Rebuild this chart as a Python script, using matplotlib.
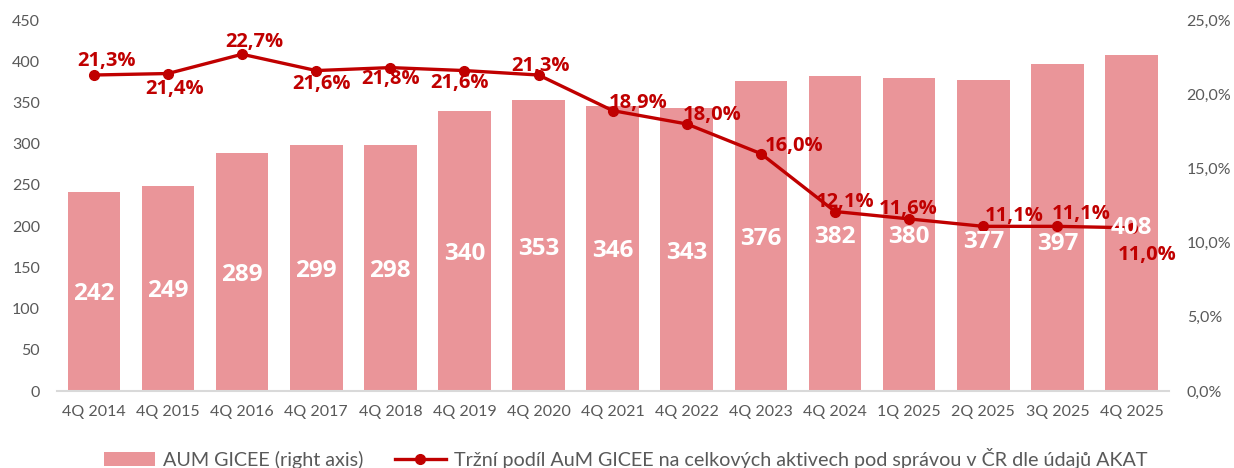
import numpy as np
import matplotlib.pyplot as plt
from matplotlib.ticker import FuncFormatter

# data
quarters = ["4Q 2014", "4Q 2015", "4Q 2016", "4Q 2017", "4Q 2018", "4Q 2019", "4Q 2020",
            "4Q 2021", "4Q 2022", "4Q 2023", "4Q 2024", "1Q 2025", "2Q 2025", "3Q 2025", "4Q 2025"]
aum = [242, 249, 289, 299, 298, 340, 353, 346, 343, 376, 382, 380, 377, 397, 408]
share = [21.3, 21.4, 22.7, 21.6, 21.8, 21.6, 21.3, 18.9, 18.0, 16.0, 12.1, 11.6, 11.1, 11.1, 11.0]

bar_label = "AUM GICEE (right axis)"
line_label = "Tržní podíl AuM GICEE na celkových aktivech pod správou v ČR dle údajů AKAT"

# label offsets (pixels) for the percentage labels and bar labels
offsets = [(13, 14), (7, -15), (12, 12), (5, -13), (0, -11), (-5, -12), (2, 9), (25, 8),
           (25, 9), (33, 8), (10, 10), (-1, 10), (31, 10), (24, 12), (16, -27)]
bar_dy = [0, 0, 0, 0, 0, 0, 0, 0, 0, 0, 0, 0, -3, -14, -2]

BAR = "#EA9599"
RED = "#C00000"
GREY = "#595959"

fig = plt.figure(figsize=(12.34, 4.68), dpi=100)
ax = fig.add_axes([0.046, 0.1645, 0.901, 0.7925])
x = np.arange(len(quarters))

bars = ax.bar(x, aum, width=0.71, color=BAR, label=bar_label, zorder=2)

ax.set_xlim(-0.5, len(quarters) - 0.5)
ax.set_ylim(0, 450)
ax.set_yticks(range(0, 451, 50))
ax.set_xticks(x)
ax.set_xticklabels(quarters)
for s in ["top", "right", "left"]:
    ax.spines[s].set_visible(False)
ax.spines["bottom"].set_color("#D9D9D9")
ax.spines["bottom"].set_linewidth(1.5)
ax.tick_params(length=0, labelsize=11.5, labelcolor=GREY)
ax.tick_params(axis="x", pad=10)
ax.tick_params(axis="y", pad=12)
for t in ax.get_xticklabels() + ax.get_yticklabels():
    t.set_family("Lato")

ax2 = ax.twinx()
ax2.set_ylim(0, 25)
ax2.set_yticks(np.arange(0, 25.1, 5))
ax2.yaxis.set_major_formatter(FuncFormatter(lambda v, p: f"{v:.1f}%".replace(".", ",")))
for s in ["top", "right", "left", "bottom"]:
    ax2.spines[s].set_visible(False)
ax2.tick_params(length=0, labelsize=11.5, labelcolor=GREY, pad=13)
for t in ax2.get_yticklabels():
    t.set_family("Lato")

line, = ax2.plot(x, share, color=RED, lw=2.4, marker="o", ms=7, label=line_label, zorder=4)

# bar value labels, drawn above the line
for xi, v, dy in zip(x, aum, bar_dy):
    ax2.annotate(str(v), (xi, v / 2), xycoords=ax.transData, xytext=(0, dy),
                 textcoords="offset pixels", ha="center", va="center_baseline", color="white",
                 fontsize=17.5, fontweight="bold", family="Open Sans", zorder=5)

for xi, v, (dx, dy) in zip(x, share, offsets):
    ax2.annotate(f"{v:.1f}%".replace(".", ","), (xi, v), xytext=(dx, dy),
                 textcoords="offset pixels", ha="center", va="center", color=RED,
                 fontsize=14.5, fontweight="bold", family="Open Sans", zorder=6)

fig.legend([bars, line], [bar_label, line_label], loc="center", bbox_to_anchor=(0.507, 0.02),
           ncol=2, frameon=False, handlelength=2.6, columnspacing=1.6, handletextpad=0.4,
           prop={"family": "Lato", "size": 14.2}, labelcolor=GREY)

fig.savefig("out.png", dpi=100)
